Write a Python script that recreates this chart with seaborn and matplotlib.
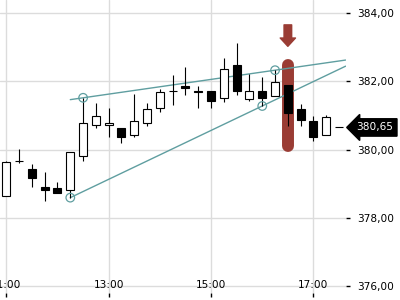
import matplotlib
matplotlib.use('Agg')
import matplotlib.pyplot as plt
import seaborn as sns
import numpy as np
import pandas as pd
from matplotlib.ticker import FuncFormatter, FixedLocator

# 15-minute candles
times = ['11:00', '11:15', '11:30', '11:45', '12:00', '12:15', '12:30', '12:45',
         '13:00', '13:15', '13:30', '13:45', '14:00', '14:15', '14:30', '14:45',
         '15:00', '15:15', '15:30', '15:45', '16:00', '16:15', '16:30', '16:45',
         '17:00', '17:15', '17:30']
opens = [378.63, 379.66, 379.44, 378.89, 378.88, 378.82, 379.82, 380.72,
         380.72, 380.64, 380.43, 380.78, 381.22, 381.71, 381.86, 381.73,
         381.72, 381.51, 382.48, 381.48, 381.72, 381.57, 381.91, 381.19,
         380.84, 380.43, 380.65]
highs = [379.68, 380.03, 379.59, 379.33, 379.04, 379.93, 381.52, 381.37,
         381.23, 380.64, 381.63, 381.37, 381.77, 382.19, 382.43, 381.87,
         381.72, 382.69, 383.13, 382.22, 382.13, 382.33, 381.91, 381.35,
         380.99, 381.01, 380.65]
lows = [378.63, 379.60, 378.90, 378.49, 378.72, 378.59, 379.66, 380.64,
        380.36, 380.18, 380.37, 380.68, 381.09, 381.30, 381.59, 381.21,
        381.21, 381.39, 381.59, 381.43, 381.28, 381.57, 380.69, 380.68,
        380.25, 380.43, 380.65]
closes = [379.65, 379.68, 379.17, 378.81, 378.72, 379.93, 380.78, 380.99,
          380.78, 380.37, 380.84, 381.19, 381.70, 381.73, 381.82, 381.69,
          381.42, 382.36, 381.72, 381.72, 381.50, 381.98, 381.06, 380.87,
          380.37, 380.97, 380.65]

# trend line pivots (upper: highs, lower: lows)
upper_pivot_times = ['12:30', '16:15']
upper_pivot_values = [381.52, 382.33]
lower_pivot_times = ['12:15', '16:00']
lower_pivot_values = [378.59, 381.28]
trend_start = '12:15'

# highlighted candle
signal_time = '16:30'
signal_low = 380.12
signal_high = 382.48
last_price = 380.65

x_ticks = ['11:00', '13:00', '15:00', '17:00']
y_ticks = [376, 378, 380, 382, 384]


def to_hours(t):
    h, m = t.split(':')
    return int(h) + int(m) / 60.0


df = pd.DataFrame({'t': [to_hours(t) for t in times], 'open': opens,
                   'high': highs, 'low': lows, 'close': closes})

sns.set_theme(style='white')
plt.rcParams['font.family'] = ['DejaVu Sans']

fig = plt.figure(figsize=(4, 3), dpi=100)
ax = fig.add_axes([0.0, 0.022, 0.864, 0.978])

x_min, x_max = 10.877, 17.628
ax.set_xlim(x_min, x_max)
ax.set_ylim(375.78, 384.39)

grid_c = '#dcdcdc'
for v in y_ticks:
    ax.axhline(v, color=grid_c, lw=1, zorder=0)
for t in x_ticks:
    ax.axvline(to_hours(t), color=grid_c, lw=1, zorder=0)

red = '#9a3c34'
teal = '#5f9ea0'

# highlight behind signal candle
sx = to_hours(signal_time)
ax.plot([sx, sx], [signal_low, signal_high], color=red, lw=8.6,
        solid_capstyle='round', zorder=1)
ax.annotate('', xy=(sx, 383.03), xytext=(sx, 383.66),
            arrowprops=dict(arrowstyle='simple,head_length=0.6,head_width=1.1,tail_width=0.55',
                            color=red, shrinkA=0, shrinkB=0, mutation_scale=10),
            zorder=2)

# trend lines
for pt, pv in [(upper_pivot_times, upper_pivot_values),
               (lower_pivot_times, lower_pivot_values)]:
    px = np.array([to_hours(t) for t in pt])
    slope = (pv[1] - pv[0]) / (px[1] - px[0])
    xs = np.array([to_hours(trend_start), x_max])
    ys = pv[0] + slope * (xs - px[0])
    sns.lineplot(x=xs, y=ys, color=teal, lw=1, ax=ax, zorder=2)

# candles
w = 0.156
ax.vlines(df['t'], df['low'], df['high'], color='black', lw=0.8, zorder=3)
up = df['close'] >= df['open']
body_bottom = np.minimum(df['open'], df['close'])
body_h = np.abs(df['close'] - df['open'])
ax.bar(df['t'], body_h, bottom=body_bottom, width=w,
       color=np.where(up, 'white', 'black'), edgecolor='black', lw=0.8, zorder=4)

# pivot circles
piv = pd.DataFrame({'t': [to_hours(t) for t in upper_pivot_times + lower_pivot_times],
                    'v': upper_pivot_values + lower_pivot_values})
sns.scatterplot(data=piv, x='t', y='v', ax=ax, s=38, facecolor='none',
                edgecolor=teal, linewidth=0.9, zorder=5)

# axes styling
for s in ax.spines.values():
    s.set_visible(False)
ax.set_xlabel('')
ax.set_ylabel('')
ax.xaxis.set_major_locator(FixedLocator([to_hours(t) for t in x_ticks]))
ax.set_xticklabels(x_ticks)
ax.yaxis.set_major_locator(FixedLocator(y_ticks))
ax.yaxis.set_major_formatter(FuncFormatter(lambda v, p: f'{v:.2f}'.replace('.', ',')))
ax.yaxis.tick_right()
ax.tick_params(axis='y', which='both', right=True, left=False, length=3, width=1,
               color='black', pad=5, labelsize=7.6, labelcolor='black')
ax.tick_params(axis='x', which='both', bottom=True, length=3, width=1,
               color='black', pad=-12.5, labelsize=7.6, labelcolor='black')
ax.grid(False)

# last price tag
ax.annotate(f'{last_price:.2f}'.replace('.', ','), xy=(1.0, last_price),
            xycoords=('axes fraction', 'data'), xytext=(7.8, 0),
            textcoords='offset points', va='center', ha='left',
            fontsize=7.6, color='white', annotation_clip=False,
            bbox=dict(boxstyle='larrow,pad=0.35', fc='black', ec='black'))

fig.savefig('out.png', dpi=100)
